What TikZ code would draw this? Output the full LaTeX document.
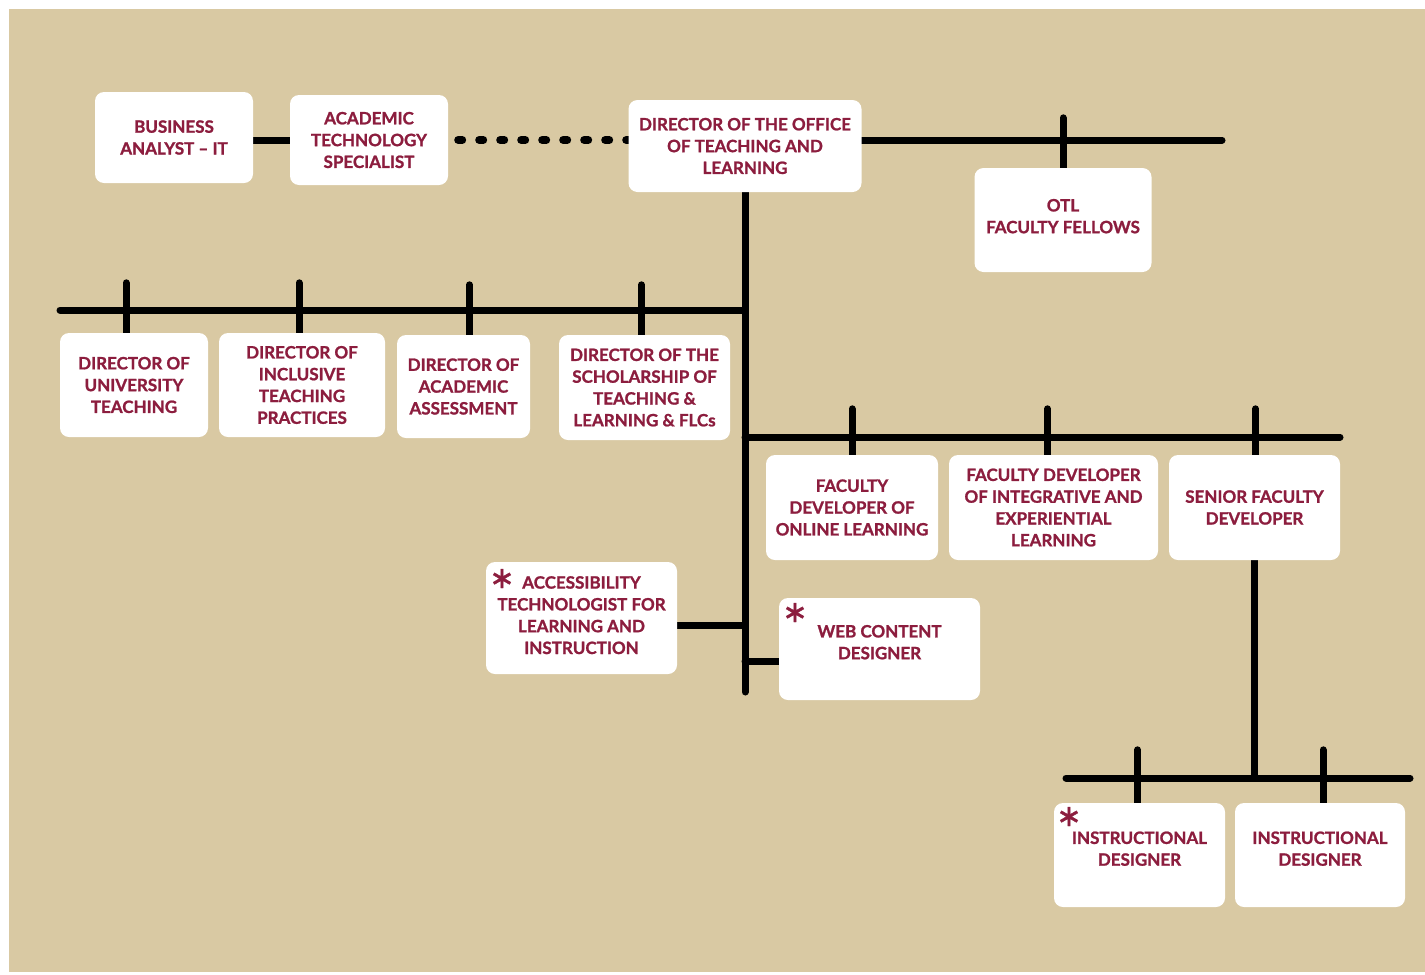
\documentclass[tikz,border=0pt]{standalone}
\usepackage{fontspec}
\setmainfont{Lato}[BoldFeatures={FakeBold=1.2}]
\newfontfamily\symfont{DejaVu Sans}[FakeBold=1.5]
\usetikzlibrary{backgrounds}
\definecolor{bg}{HTML}{D9C9A3}
\definecolor{maroon}{HTML}{8C1D3E}
\tikzset{
  box/.style={fill=white, rounded corners=9pt, align=center, text=maroon,
    font=\fontsize{17}{21.8}\selectfont\bfseries, inner sep=0pt},
  wire/.style={line width=7pt, line cap=round, black},
  dots/.style={line width=8pt, line cap=round, dash pattern=on 4pt off 17pt, black},
  star/.style={text=maroon, font=\symfont\fontsize{30}{30}\selectfont, inner sep=0pt, anchor=base}
}
\begin{document}
\begin{tikzpicture}[x=1pt,y=-1pt]
\useasboundingbox (0,0) rectangle (1425,975);
\begin{scope}[on background layer]
  \fill[white] (0,0) rectangle (1425,975);
  \fill[bg] (9,9) rectangle (1425,972);
\end{scope}
% nodes
\node[box, minimum width=158pt, minimum height=91pt] (ba) at (174,137.5) {BUSINESS\\ANALYST -- IT};
\node[box, minimum width=158pt, minimum height=90pt] (ats) at (369,140) {ACADEMIC\\TECHNOLOGY\\SPECIALIST};
\node[box, minimum width=233pt, minimum height=92pt] (dir) at (745,146) {DIRECTOR OF THE OFFICE\\OF TEACHING AND\\LEARNING};
\node[box, minimum width=177pt, minimum height=104pt] (fel) at (1063,220) {OTL\\FACULTY FELLOWS\\[-14pt]};
\node[box, minimum width=148pt, minimum height=104pt] (dut) at (134,385) {DIRECTOR OF\\UNIVERSITY\\TEACHING};
\node[box, minimum width=166pt, minimum height=104pt] (dit) at (302,385) {DIRECTOR OF\\INCLUSIVE\\TEACHING\\PRACTICES};
\node[box, minimum width=133pt, minimum height=103pt] (daa) at (463.5,386.5) {DIRECTOR OF\\ACADEMIC\\ASSESSMENT};
\node[box, minimum width=171pt, minimum height=105pt] (dso) at (644.5,387.5) {DIRECTOR OF THE\\SCHOLARSHIP OF\\TEACHING \&\\LEARNING \& FLCs};
\node[box, minimum width=172pt, minimum height=105pt] (fdo) at (852,507.5) {FACULTY\\DEVELOPER OF\\ONLINE LEARNING};
\node[box, minimum width=209pt, minimum height=105pt] (fdi) at (1053.5,507.5) {FACULTY DEVELOPER\\OF INTEGRATIVE AND\\EXPERIENTIAL\\LEARNING};
\node[box, minimum width=171pt, minimum height=105pt] (sfd) at (1254.5,507.5) {SENIOR FACULTY\\DEVELOPER};
\node[box, minimum width=191pt, minimum height=112pt] (atl) at (581.5,618) {ACCESSIBILITY\\TECHNOLOGIST FOR\\LEARNING AND\\INSTRUCTION\\[-16pt]};
\node[box, minimum width=201pt, minimum height=102pt] (wcd) at (879.5,649) {WEB CONTENT\\DESIGNER\\[-8pt]};
\node[box, minimum width=171pt, minimum height=104pt] (id1) at (1139.5,855) {INSTRUCTIONAL\\DESIGNER\\[-9pt]};
\node[box, minimum width=170pt, minimum height=104pt] (id2) at (1320,855) {INSTRUCTIONAL\\DESIGNER\\[-9pt]};
\node[star] (s0) at (502,588) {∗};
\node[star] (s1) at (795,622) {∗};
\node[star] (s2) at (1069,826) {∗};
% connectors
\coordinate (rtop) at (1222,140);
\coordinate (spend) at (745,692);
\coordinate (lbus) at (60,310);
\coordinate (lj) at (745,310);
\coordinate (rbus) at (1340,437);
\coordinate (rj) at (745,437);
\coordinate (bl) at (1066,778);
\coordinate (br) at (1410,778);
\begin{scope}[on background layer]
  \draw[wire] (ba.east |- 0,140) -- (ats.west |- 0,140);
  \draw[dots] ([xshift=10pt]ats.east |- 0,140) -- (dir.west |- 0,140);
  \draw[wire] (dir.east |- rtop) -- (rtop);
  \draw[wire] (fel.north) -- ++(0,-50);
  \draw[wire] (dir.south) -- (spend);
  \draw[wire] (lbus) -- (lj);
  \draw[wire] ([xshift=-8pt]dut.north) -- ++(0,-50);
  \draw[wire] ([xshift=-3pt]dit.north) -- ++(0,-50);
  \draw[wire] ([xshift=6pt]daa.north) -- ++(0,-50);
  \draw[wire] ([xshift=-3pt]dso.north) -- ++(0,-50);
  \draw[wire] (rj) -- (rbus);
  \draw[wire] (fdo.north) -- ++(0,-46);
  \draw[wire] ([xshift=-6pt]fdi.north) -- ++(0,-46);
  \draw[wire] ([xshift=1pt]sfd.north) -- ++(0,-46);
  \draw[wire] ([yshift=-7pt]atl.east) -- ([yshift=-7pt]atl.east -| spend);
  \draw[wire] ([yshift=-12pt]wcd.west) -- ([yshift=-12pt]wcd.west -| spend);
  \draw[wire] (sfd.south) -- (sfd.south |- bl);
  \draw[wire] (bl) -- (br);
  \draw[wire] ([xshift=-2pt]id1.north) -- ++(0,-53);
  \draw[wire] ([xshift=3pt]id2.north) -- ++(0,-53);
\end{scope}
\end{tikzpicture}
\end{document}
